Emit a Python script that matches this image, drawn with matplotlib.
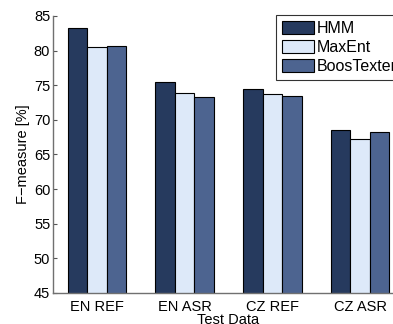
import matplotlib
matplotlib.use("Agg")
import matplotlib.pyplot as plt
import numpy as np

categories = ["EN REF", "EN ASR", "CZ REF", "CZ ASR"]
series_names = ["HMM", "MaxEnt", "BoosTexter"]
hmm = [83.2, 75.4, 74.5, 68.6]
maxent = [80.5, 73.9, 73.8, 67.2]
boostexter = [80.6, 73.3, 73.4, 68.2]
yticks = [45, 50, 55, 60, 65, 70, 75, 80, 85]

colors = ["#263a5e", "#dde9f9", "#4d6490"]

plt.rcParams['font.family'] = ['Liberation Sans', 'DejaVu Sans']

fig = plt.figure(figsize=(3.93, 3.24), dpi=100)
ax = fig.add_axes([53/393, 31/324, 351/393, 277/324])

x = np.arange(1, len(categories) + 1)
w = 0.222
for i, (vals, name) in enumerate(zip([hmm, maxent, boostexter], series_names)):
    ax.bar(x + (i - 1) * w, vals, width=w, color=colors[i], edgecolor="black",
           linewidth=0.8, label=name, zorder=2)

ax.set_xlim(0.5, 4.5)
ax.set_ylim(45, 85)
ax.set_yticks(yticks)
ax.set_xticks(x)
ax.set_xticklabels(categories)
ax.tick_params(axis='both', direction='in', labelsize=10.5, length=3, color='#555555')
ax.tick_params(axis='y', pad=2)
ax.tick_params(axis='x', length=0, pad=5)
for s in ['top', 'right']:
    ax.spines[s].set_visible(False)
for s in ['left', 'bottom']:
    ax.spines[s].set_color('#707070')
    ax.spines[s].set_linewidth(1.0)

ax.set_ylabel("F\u2212measure [%]", fontsize=10.5, labelpad=3)
ax.set_xlabel("Test Data", fontsize=10.5, labelpad=-1)

leg = fig.legend(loc='upper left', bbox_to_anchor=(276/393, 1 - 15/324),
                 fontsize=11.5, frameon=True, fancybox=False, edgecolor='black',
                 handlelength=2.05, handleheight=0.9, handletextpad=0.15,
                 labelspacing=0.25, borderpad=0.35, borderaxespad=0)
leg.get_frame().set_linewidth(0.8)

fig.savefig("out.png", dpi=100)
